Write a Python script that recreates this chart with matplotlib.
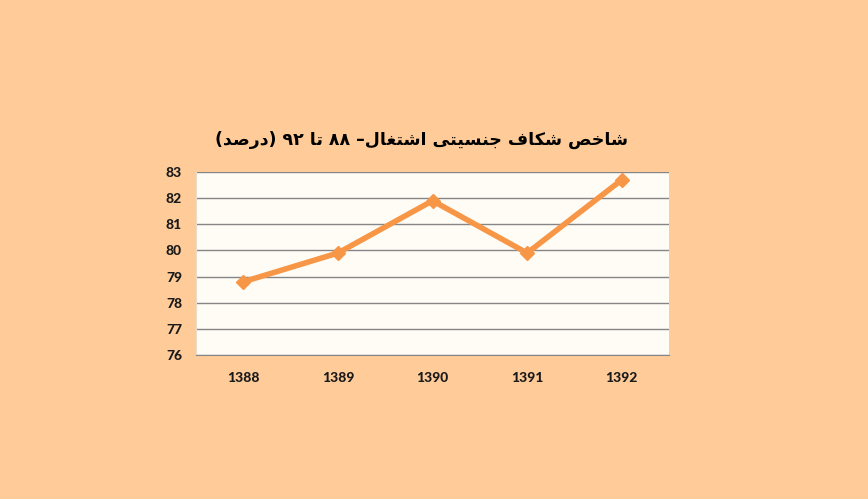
import matplotlib
matplotlib.use('Agg')
import matplotlib.pyplot as plt
from matplotlib import font_manager
from matplotlib.ft2font import FT2Font

# Données du graphique
years = ['1388', '1389', '1390', '1391', '1392']
values = [78.8, 79.9, 81.9, 79.9, 82.7]
y_ticks = [76, 77, 78, 79, 80, 81, 82, 83]
title_text = 'شاخص شکاف جنسیتی اشتغال– ۸۸ تا ۹۲ (درصد)'

# Formes contextuelles (isolée, finale, initiale, médiane)
FORMS = {
    'ا': ('\uFE8D', '\uFE8E', None, None),
    'د': ('\uFEA9', '\uFEAA', None, None),
    'ر': ('\uFEAD', '\uFEAE', None, None),
    'ت': ('\uFE95', '\uFE96', '\uFE97', '\uFE98'),
    'ج': ('\uFE9D', '\uFE9E', '\uFE9F', '\uFEA0'),
    'خ': ('\uFEA5', '\uFEA6', '\uFEA7', '\uFEA8'),
    'س': ('\uFEB1', '\uFEB2', '\uFEB3', '\uFEB4'),
    'ش': ('\uFEB5', '\uFEB6', '\uFEB7', '\uFEB8'),
    'ص': ('\uFEB9', '\uFEBA', '\uFEBB', '\uFEBC'),
    'غ': ('\uFECD', '\uFECE', '\uFECF', '\uFED0'),
    'ف': ('\uFED1', '\uFED2', '\uFED3', '\uFED4'),
    'ل': ('\uFEDD', '\uFEDE', '\uFEDF', '\uFEE0'),
    'ن': ('\uFEE5', '\uFEE6', '\uFEE7', '\uFEE8'),
    'ک': ('\uFB8E', '\uFB8F', '\uFB90', '\uFB91'),
    'ی': ('\uFBFC', '\uFBFD', '\uFBFE', '\uFBFF'),
}
# Remplacements si la police n'a pas les formes persanes
FALLBACK = {
    '\uFB8E': '\uFED9', '\uFB8F': '\uFEDA', '\uFB90': '\uFEDB', '\uFB91': '\uFEDC',
    '\uFBFC': '\uFEEF', '\uFBFD': '\uFEF0', '\uFBFE': '\uFEF3', '\uFBFF': '\uFEF4',
}


def shape(text):
    out = []
    for i, ch in enumerate(text):
        if ch not in FORMS:
            out.append(ch)
            continue
        prev = text[i - 1] if i > 0 else ''
        nxt = text[i + 1] if i + 1 < len(text) else ''
        join_prev = prev in FORMS and FORMS[prev][2] is not None
        join_next = nxt in FORMS and FORMS[ch][2] is not None
        iso, fin, ini, med = FORMS[ch]
        if join_prev and join_next:
            out.append(med)
        elif join_prev:
            out.append(fin)
        elif join_next:
            out.append(ini)
        else:
            out.append(iso)
    return ''.join(out)


def visual(text):
    # ordre visuel : inversion, chiffres gardés dans l'ordre, parenthèses en miroir
    rev = text[::-1]
    res, run = [], ''
    for ch in rev:
        if ch.isdigit():
            run += ch
        else:
            if run:
                res.append(run[::-1])
                run = ''
            res.append({'(': ')', ')': '('}.get(ch, ch))
    if run:
        res.append(run[::-1])
    return ''.join(res)


title_font = font_manager.findfont(font_manager.FontProperties(family='DejaVu Sans', weight='bold'))
charmap = FT2Font(title_font).get_charmap()
shaped = ''.join(c if ord(c) in charmap else FALLBACK.get(c, c) for c in shape(title_text))
title_visual = visual(shaped)

fig = plt.figure(figsize=(8.68, 4.99), dpi=100, facecolor='#FFCC99')
ax = fig.add_axes([0.2258, 0.2886, 0.545, 0.3667])
ax.set_facecolor('#FFFCF6')

ax.plot(range(len(years)), values, color='#F79646', linewidth=4,
        marker='D', markersize=7, solid_joinstyle='miter')

ax.set_xlim(-0.5, len(years) - 0.5)
ax.set_ylim(76, 83)
ax.set_yticks(y_ticks)
ax.set_xticks(range(len(years)))
ax.set_xticklabels(years)
ax.grid(axis='y', color='#868686', linewidth=1)
ax.set_axisbelow(True)
ax.tick_params(length=0, pad=12)
ax.tick_params(axis='y', pad=10)
for lab in ax.get_xticklabels() + ax.get_yticklabels():
    lab.set_family('Lato')
    lab.set_fontweight(900)
    lab.set_fontsize(10)
    lab.set_color('#1a1a1a')

ax.spines['top'].set_visible(False)
ax.spines['right'].set_visible(False)
ax.spines['left'].set_color('#E8DCCB')
ax.spines['bottom'].set_color('#868686')

fig.text(0.4855, 0.719, title_visual, ha='center', va='center',
         fontsize=12.5, fontweight='bold', family='DejaVu Sans', color='black')

fig.savefig('out.png', dpi=100, facecolor=fig.get_facecolor())
